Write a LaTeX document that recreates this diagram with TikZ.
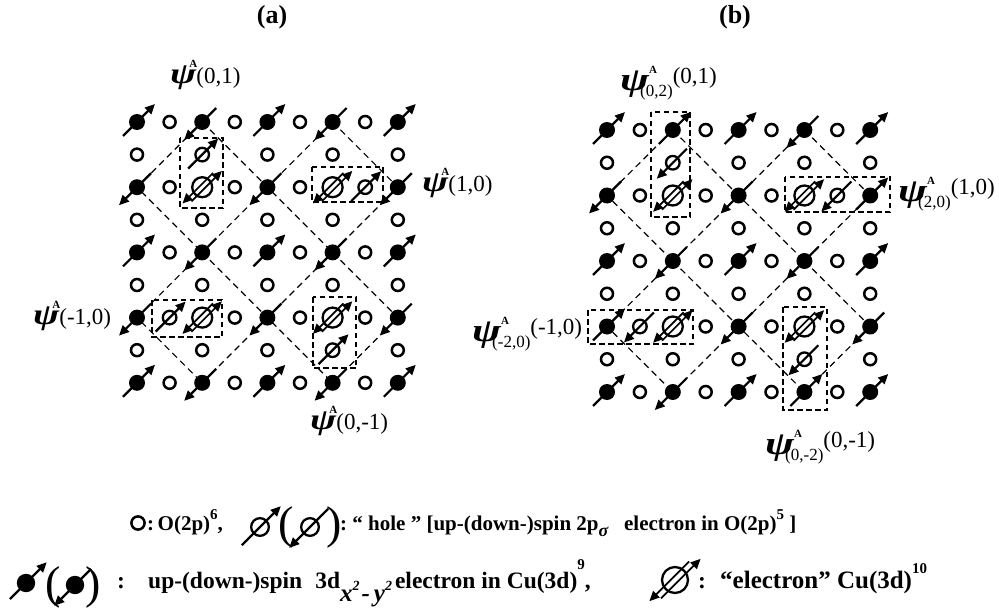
\documentclass[tikz,border=0pt]{standalone}
\usepackage{fontspec}
\setmainfont{Liberation Serif}
\usetikzlibrary{arrows.meta,calc}
\newcommand\siteU[1]{\pic at (#1) {cuup};}
\newcommand\siteD[1]{\pic at (#1) {cudn};}
\newcommand\siteo[1]{\pic at (#1) {oxy};}
\newcommand\siteh[1]{\pic at (#1) {holeup};}
\newcommand\sitek[1]{\pic at (#1) {holedn};}
\newcommand\siteE[1]{\pic at (#1) {elec};}
\newcommand\siten[1]{}
\newcommand\Psy[1]{\scalebox{1.4}[1.05]{\fontsize{#1}{#1}\selectfont\bfseries\itshape ψ}}
\newcommand\Asym{\fontsize{11}{11}\selectfont\bfseries A}
\newcommand\labA[1]{\Psy{28}\rlap{\kern-7pt\raisebox{16pt}{\Asym}}{\fontsize{23}{23}\selectfont #1}}
\newcommand\labB[2]{\Psy{31}\rlap{\kern0pt\raisebox{17pt}{\Asym}}\kern-9pt\raisebox{-6pt}{\fontsize{17}{17}\selectfont #1}\raisebox{7pt}{\fontsize{23}{23}\selectfont #2}}
\newcommand\lsup[2][0.5em]{\raisebox{#1}{\fontsize{15}{15}\selectfont\bfseries #2}}
\newcommand\rowsA{{U,o,D,o,U,o,D,o,U},{o,n,h,n,o,n,o,n,o},{D,o,E,o,D,o,E,h,D},{o,n,o,n,o,n,o,n,o},{U,o,D,o,U,o,D,o,U},{o,n,o,n,o,n,o,n,o},{D,h,E,o,D,o,E,o,D},{o,n,o,n,o,n,h,n,o},{U,o,D,o,U,o,D,o,U}}
\newcommand\rowsB{{U,o,U,o,U,o,D,o,U},{o,n,k,n,o,n,o,n,o},{D,o,E,o,D,o,E,k,U},{o,n,o,n,o,n,o,n,o},{U,o,D,o,U,o,D,o,U},{o,n,o,n,o,n,o,n,o},{U,k,E,o,D,o,E,o,D},{o,n,o,n,o,n,k,n,o},{U,o,D,o,U,o,U,o,U}}
\begin{document}
\begin{tikzpicture}[x=1pt,y=-1pt,
  tipst/.style={-{Triangle[length=10pt,width=9pt]}},
  spin/.style={line width=2.2pt,tipst},
  dia/.style={line width=1.2pt,dash pattern=on 6.5pt off 4.5pt},
  dbox/.style={line width=1.2pt,dash pattern=on 5.5pt off 3.5pt},
  cuup/.pic={\draw[spin] (-14,14) -- (18,-18); \fill (0,0) circle (8pt);},
  cudn/.pic={\draw[spin] (14,-14) -- (-18,18); \fill (0,0) circle (8pt);},
  oxy/.pic={\draw[line width=2.5pt,fill=white] (0,0) circle (6pt);},
  holeup/.pic={\draw[line width=2.3pt,fill=white] (0,0) circle (6.8pt); \draw[spin] (-14,14) -- (16,-16);},
  holedn/.pic={\draw[line width=2.3pt,fill=white] (0,0) circle (6.8pt); \draw[spin] (14,-14) -- (-16,16);},
  elec/.pic={\draw[line width=2.3pt,fill=white] (0,0) circle (10pt);
     \draw[line width=1.7pt,tipst] (-10.8,14.2) -- (19.7,-16.3);
     \draw[line width=1.7pt,tipst] (10.8,-14.2) -- (-19.7,16.3);},
  paren/.style={font=\fontsize{46}{46}\selectfont, inner sep=0pt},
  lg/.style={font=\fontsize{21}{24}\selectfont\bfseries, inner sep=0pt, anchor=base west},
  lgb/.style={font=\fontsize{23.5}{24}\selectfont\bfseries, inner sep=0pt, anchor=base west},
  lab/.style={inner sep=0pt, anchor=base west},
  ttl/.style={font=\fontsize{26}{26}\selectfont\bfseries, inner sep=0pt}
]
\useasboundingbox (0,0) rectangle (999,615);
% lattice coordinates
\foreach \c in {0,...,8}{\foreach \r in {0,...,8}{
  \coordinate (a-\c-\r) at ({137+32.6*\c},{122+32.6*\r});
  \coordinate (b-\c-\r) at ({607+32.9*\c},{130+32.75*\r});}}
% titles
\node[ttl] (ta) at (272,17) {(a)};
\node[ttl] (tb) at (735,17) {(b)};
% dashed diamonds
\foreach \p in {a,b}{
  \draw[dia] (\p-2-0) -- (\p-4-2) -- (\p-2-4) -- (\p-0-2) -- cycle;
  \draw[dia] (\p-6-0) -- (\p-8-2) -- (\p-6-4) -- (\p-4-2) -- cycle;
  \draw[dia] (\p-2-4) -- (\p-4-6) -- (\p-2-8) -- (\p-0-6) -- cycle;
  \draw[dia] (\p-6-4) -- (\p-8-6) -- (\p-6-8) -- (\p-4-6) -- cycle;
}
% dashed boxes (a)
\draw[dbox] (180,138) rectangle (223,208);
\draw[dbox] (312,167) rectangle (383,202);
\draw[dbox] (152,300) rectangle (222,337);
\draw[dbox] (313,297) rectangle (356,368);
% dashed boxes (b)
\draw[dbox] (651,112) rectangle (690,217);
\draw[dbox] (785,177) rectangle (890,212);
\draw[dbox] (588,310) rectangle (693,344);
\draw[dbox] (783,307) rectangle (827,410);
% sites
\foreach \rw [count=\r from 0] in \rowsA {\foreach \t [count=\c from 0] in \rw {\csname site\t\endcsname{a-\c-\r}}}
\foreach \rw [count=\r from 0] in \rowsB {\foreach \t [count=\c from 0] in \rw {\csname site\t\endcsname{b-\c-\r}}}
% labels (a)
\node[lab] (la1) at (170,84) {\labA{(0,1)}};
\node[lab] (la2) at (422,191) {\labA{(1,0)}};
\node[lab] (la3) at (33,324) {\labA{(-1,0)}};
\node[lab] (la4) at (310,429) {\labA{(0,-1)}};
% labels (b)
\node[lab] (lb1) at (620,91) {\labB{(0,2)}{(0,1)}};
\node[lab] (lb2) at (898,201) {\labB{(2,0)}{(1,0)}};
\node[lab] (lb3) at (472,341) {\labB{(-2,0)}{(-1,0)}};
\node[lab] (lb4) at (765,454) {\labB{(0,-2)}{(0,-1)}};
% legend line 1
\pic[scale=1.1] at (138,523) {oxy};
\node[lg] (l1a) at (147,530) {:\,O(2p)\lsup{6},};
\pic[scale=1.3] at (260,527) {holeup};
\node[paren] (l1p) at (286,527) {(};
\pic[scale=1.3] at (310,527) {holedn};
\node[paren] (l1q) at (334,527) {)};
\node[lg] (l1b) at (340,530) {:\ “ hole ” [up-(down-)spin 2p\raisebox{-0.3em}{\fontsize{18}{18}\selectfont\itshape σ}\ \ \ electron in O(2p)\lsup{5} ]};
% legend line 2
\pic[scale=1.15] at (26,583) {cuup};
\node[paren] (l2p) at (53,587) {(};
\pic[scale=1.15] at (75,585) {cudn};
\node[paren] (l2q) at (93,587) {)};
\node[lgb] (l2a) at (117,588) {:};
\node[lgb] (l2b) at (148,588) {up-(down-)spin\hspace{13pt}3d\raisebox{-13pt}{\fontsize{25}{25}\selectfont\itshape x\raisebox{0.42em}{\fontsize{14}{14}\selectfont 2}\hspace{2pt}-\hspace{4pt}y\raisebox{0.42em}{\fontsize{14}{14}\selectfont 2}}\hspace{3pt}electron in Cu(3d)\lsup[0.8em]{9},};
\pic[scale=1.3] at (675,580) {elec};
\node[lgb] (l2d) at (698,588) {:};
\node[lgb,font=\fontsize{25}{25}\selectfont\bfseries] (l2e) at (720,588) {“electron” Cu(3d)\lsup[0.6em]{10}};
\end{tikzpicture}
\end{document}
